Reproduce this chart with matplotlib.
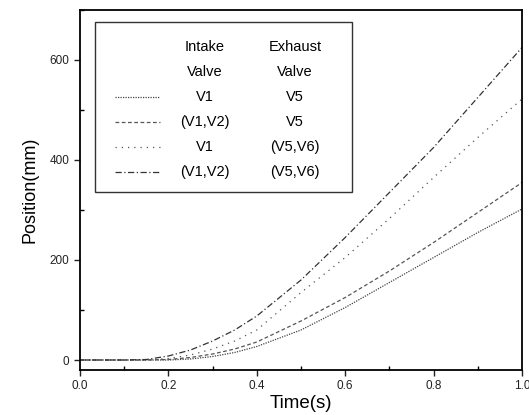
import matplotlib.pyplot as plt
from matplotlib.patches import Rectangle
from matplotlib.lines import Line2D
from matplotlib.ticker import MultipleLocator

# time samples (s) and valve-actuation position curves (mm)
time_s = [0.0, 0.1, 0.15, 0.2, 0.25, 0.3, 0.35, 0.4, 0.5, 0.6, 0.7, 0.8, 0.9, 1.0]
pos_v1_v5 = [0, 0, 0, 0, 2, 7, 15, 27, 60, 105, 155, 205, 255, 302]
pos_v12_v5 = [0, 0, 0, 1, 5, 12, 22, 36, 78, 125, 178, 235, 295, 355]
pos_v1_v56 = [0, 0, 0, 3, 10, 22, 38, 60, 135, 205, 283, 365, 445, 522]
pos_v12_v56 = [0, 0, 1, 8, 20, 38, 60, 88, 160, 245, 335, 425, 525, 625]

intake_labels = ["V1", "(V1,V2)", "V1", "(V1,V2)"]
exhaust_labels = ["V5", "V5", "(V5,V6)", "(V5,V6)"]

series = [pos_v1_v5, pos_v12_v5, pos_v1_v56, pos_v12_v56]
styles = [(0, (1, 1)), (0, (3, 2)), (0, (1, 4)), (0, (5, 2, 1, 2))]
colors = ["#444444", "#555555", "#555555", "#333333"]

plt.rcParams['font.family'] = ['Liberation Sans', 'DejaVu Sans']

fig = plt.figure(figsize=(5.29, 4.15), dpi=100)
ax = fig.add_axes([80 / 529, 45 / 415, 442 / 529, 360 / 415])

for ys, ls, c in zip(series, styles, colors):
    ax.plot(time_s, ys, linestyle=ls, color=c, linewidth=0.9)

ax.set_xlim(0, 1.0)
ax.set_ylim(-20, 700)
ax.xaxis.set_major_locator(MultipleLocator(0.2))
ax.xaxis.set_minor_locator(MultipleLocator(0.1))
ax.yaxis.set_major_locator(MultipleLocator(200))
ax.yaxis.set_minor_locator(MultipleLocator(100))
ax.xaxis.set_major_formatter(plt.FuncFormatter(lambda v, p: f"{v:.1f}"))
ax.tick_params(which='major', direction='out', length=4, width=1, labelsize=8.5, colors='#222222')
ax.tick_params(which='minor', direction='in', length=3, width=1)
for sp in ax.spines.values():
    sp.set_linewidth(1.3)

ax.set_xlabel("Time(s)", fontsize=13.5, labelpad=2)
ax.set_ylabel("Position(mm)", fontsize=13, labelpad=8)

# hand-built two-column legend
tr = ax.transAxes
x0, x1 = (95 - 80) / 442, (352 - 80) / 442
y_top, y_bot = (370 - 22) / 360, (370 - 192) / 360
ax.add_patch(Rectangle((x0, y_bot), x1 - x0, y_top - y_bot, transform=tr,
                       fill=False, edgecolor='#333333', linewidth=1.0, zorder=5))

def ax_y(py):
    return (370 - py) / 360

col_in = (205 - 80) / 442
col_ex = (295 - 80) / 442
for txt_in, txt_ex, py in [("Intake", "Exhaust", 47), ("Valve", "Valve", 72)]:
    ax.text(col_in, ax_y(py), txt_in, transform=tr, ha='center', va='center', fontsize=10.5)
    ax.text(col_ex, ax_y(py), txt_ex, transform=tr, ha='center', va='center', fontsize=10.5)

row_py = [97, 122, 147, 172]
lx0, lx1 = (115 - 80) / 442, (160 - 80) / 442
for lab_in, lab_ex, ls, c, py in zip(intake_labels, exhaust_labels, styles, colors, row_py):
    ax.add_line(Line2D([lx0, lx1], [ax_y(py), ax_y(py)], transform=tr,
                       linestyle=ls, color=c, linewidth=0.9))
    ax.text(col_in, ax_y(py), lab_in, transform=tr, ha='center', va='center', fontsize=10.5)
    ax.text(col_ex, ax_y(py), lab_ex, transform=tr, ha='center', va='center', fontsize=10.5)

fig.savefig("out.png", dpi=100)
